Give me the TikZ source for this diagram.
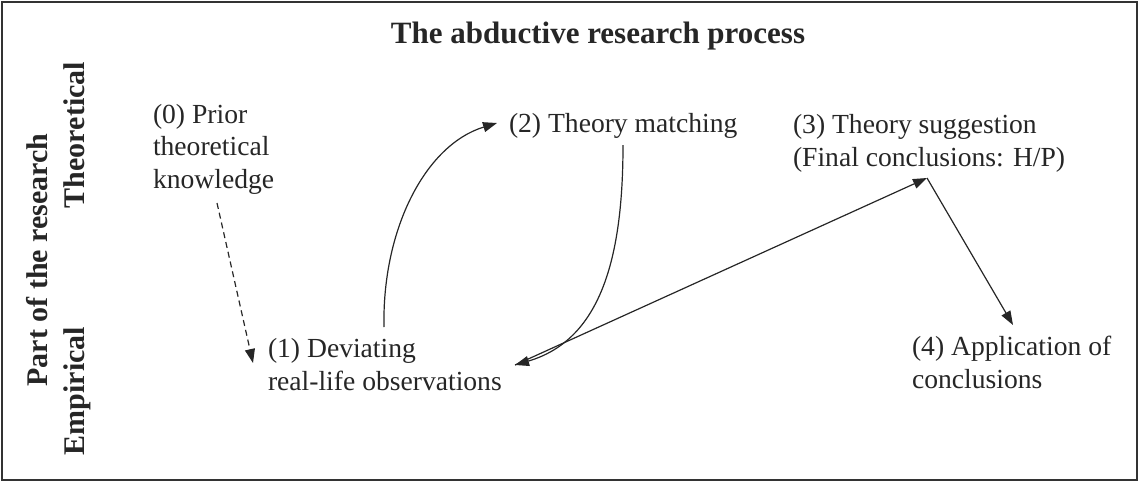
\documentclass[tikz,border=0pt]{standalone}
\usepackage{fontspec}
\setmainfont{Liberation Serif}
\usetikzlibrary{arrows.meta}
\definecolor{ink}{gray}{0.15}
\begin{document}
\begin{tikzpicture}[x=0.5pt,y=-0.5pt,
  lbl/.style={inner sep=0pt,outer sep=0pt,text=ink,font=\fontsize{13.8}{16.1}\selectfont,align=left,anchor=base west},
  ttl/.style={inner sep=0pt,text=ink,font=\bfseries\fontsize{15.5}{18}\selectfont,anchor=base},
  side/.style={inner sep=0pt,text=ink,font=\bfseries\fontsize{15}{18}\selectfont,rotate=90,anchor=base},
  conn/.style={draw=ink,line width=0.6pt,-{Triangle[length=7pt,width=5pt]}},
]
\useasboundingbox (0,0) rectangle (1139,482);
\draw[line width=1.2pt,draw=black!80] (2,2) rectangle (1137,480);

\node[ttl] (title) at (598,43) {The abductive research process};
\node[side] (part) at (47,260) {Part of the research};
\node[side] (theo) at (84,135) {Theoretical};
\node[side] (emp) at (84,391) {Empirical};

% multi-line nodes: base anchor sits on the last line
\node[lbl] (n0) at (153,188) {(0) Prior\\theoretical\\knowledge};
\node[lbl] (n1) at (268,390) {(1) Deviating\\real-life observations};
\node[lbl] (n2) at (509,132) {(2) Theory matching};
\node[lbl] (n3) at (793,166) {(3) Theory suggestion\\(Final conclusions: H/P)};
\node[lbl] (n4) at (912,388) {(4) Application of\\conclusions};

\coordinate (c0s) at (217,203);
\coordinate (c0t) at (253,363);
\coordinate (c1s) at (384,327);
\coordinate (c2t) at (497,123);
\coordinate (c2s) at (623,145);
\coordinate (c1t) at (515,365);
\coordinate (c3t) at (927,178);
\coordinate (c4t) at (1013,325);

\draw[conn,dash pattern=on 3pt off 2pt] (c0s) -- (c0t);
\draw[conn] (c1s) .. controls (382,230) and (425,145) .. (c2t);
\draw[conn] (c2s) .. controls (623,260) and (600,340) .. (c1t);
\draw[conn] (c1t) -- (c3t);
\draw[conn] (c3t) -- (c4t);
\end{tikzpicture}
\end{document}
